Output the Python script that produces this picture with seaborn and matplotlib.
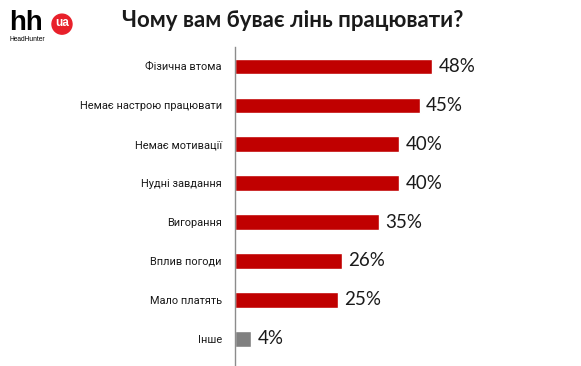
import matplotlib
matplotlib.use("Agg")
import matplotlib.pyplot as plt
import seaborn as sns
import pandas as pd
from matplotlib.patches import Ellipse

# --- Data ---
categories = [
    "Фізична втома",
    "Немає настрою працювати",
    "Немає мотивації",
    "Нудні завдання",
    "Вигорання",
    "Вплив погоди",
    "Мало платять",
    "Інше",
]
values = [48, 45, 40, 40, 35, 26, 25, 4]
value_labels = ["48%", "45%", "40%", "40%", "35%", "26%", "25%", "4%"]
bar_colors = ["#C00000"] * 7 + ["#808080"]

df = pd.DataFrame({"category": categories, "value": values})

sns.set_theme(style="white")
plt.rcParams["font.family"] = ["Lato", "DejaVu Sans"]

fig = plt.figure(figsize=(5.81, 3.66), dpi=100)
ax = fig.add_axes([0.4045, 0.0, 0.5645, 0.8716])

sns.barplot(
    data=df, x="value", y="category", hue="category", palette=bar_colors,
    legend=False, width=0.4, saturation=1, ax=ax,
)

ax.set_xlim(0, 80)
ax.set_ylim(7.7, -0.5)
ax.set_xlabel("")
ax.set_ylabel("")
ax.set_xticks([])
for side in ["top", "right", "bottom"]:
    ax.spines[side].set_visible(False)
ax.spines["left"].set_color("#8c8c8c")
ax.spines["left"].set_linewidth(1.0)
ax.tick_params(axis="y", length=0, pad=9.5, labelcolor="#1a1a1a")
for lbl in ax.get_yticklabels():
    lbl.set_fontfamily(["Roboto", "DejaVu Sans"])
    lbl.set_fontsize(7.9)

for i, (v, lab) in enumerate(zip(values, value_labels)):
    ax.text(v + 1.6, i, lab, va="center", ha="left", fontsize=13.5, color="#1a1a1a")

# Title
fig.text(0.503, 0.945, "Чому вам буває лінь працювати?", ha="center", va="center",
         fontsize=16, fontweight="bold", color="#1a1a1a")

# Logo
fig.text(0.015, 0.938, "hh", ha="left", va="center", fontsize=20, fontweight="bold",
         color="black", family=["Liberation Sans"])
logo_circle = Ellipse((0.1067, 0.934), 20 / 581, 20 / 366, transform=fig.transFigure,
                      color="#E8202A")
fig.patches.append(logo_circle)
fig.text(0.1067, 0.938, "ua", ha="center", va="center", fontsize=8.5, fontweight="bold",
         color="white", family=["Liberation Sans"])
fig.text(0.017, 0.893, "HeadHunter", ha="left", va="center", fontsize=4.8,
         color="black", family=["Liberation Sans"])

fig.savefig("out.png", dpi=100)
